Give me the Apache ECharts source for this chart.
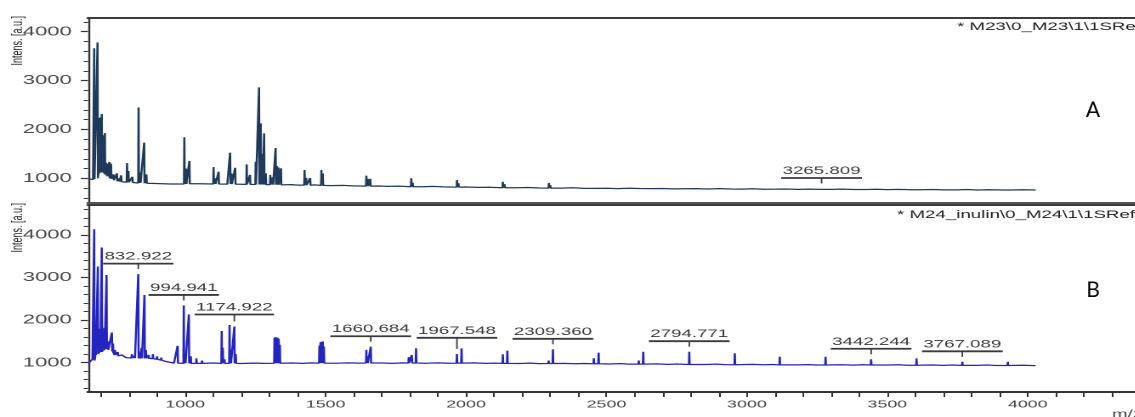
<!DOCTYPE html>
<html>
<head>
<meta charset="utf-8">
<script src="https://cdn.jsdelivr.net/npm/echarts@6/dist/echarts.min.js"></script>
<style>
html, body { margin: 0; padding: 0; background: #fff; overflow: hidden; }
#chart { position: absolute; left: 0; top: 0; height: 417px; transform-origin: 0 0; }
</style>
</head>
<body>
<div id="chart"></div>
<script>
// ---- spectrum data (m/z, intensity in a.u.) ----
const mzRange = [654, 4384];

// Spectrum A: M23 reference
const baselineA = [
  [655, 990], [665, 1000], [672, 975], [682, 990], [700, 1120], [712, 1080], [725, 1000],
  [745, 960], [760, 935], [800, 915], [860, 898], [950, 884], [1050, 890], [1150, 882],
  [1250, 875], [1350, 866], [1380, 872], [1400, 860], [1460, 866], [1520, 850], [1560, 856],
  [1600, 846], [1690, 842], [1720, 834], [1760, 840], [1850, 828], [1880, 834], [1920, 824],
  [2000, 822], [2040, 814], [2080, 818], [2180, 806], [2220, 812], [2260, 802], [2340, 800],
  [2380, 806], [2420, 794], [2500, 796], [2540, 790], [2580, 798], [2660, 788], [2700, 792],
  [2740, 784], [2820, 790], [2860, 782], [2900, 788], [2980, 780], [3020, 786], [3060, 776],
  [3140, 782], [3180, 775], [3220, 780], [3300, 774], [3340, 779], [3380, 770], [3460, 776],
  [3500, 768], [3540, 773], [3620, 766], [3660, 771], [3700, 764], [3780, 770], [3820, 762],
  [3860, 767], [3940, 762], [3980, 766], [4028, 760]
];
// [m/z, peak top, peak foot]
const peaksA = [
  [676, 3660, 985], [688, 3780, 1000], [692, 2235, 1100], [695, 1880, 1120], [699, 2250, 1140],
  [703, 2315, 1140], [706, 1880, 1120], [710, 1350, 1100], [714, 1925, 1080], [718, 1320, 1060],
  [722, 1300, 1040], [730, 1335, 1000], [736, 1300, 990], [745, 1080, 960], [757, 1100, 940],
  [765, 1000, 935], [772, 1060, 930], [793, 1310, 920], [798, 1150, 920], [812, 1030, 915],
  [834, 2450, 905], [840, 1120, 905], [854, 1730, 900], [862, 1080, 900], [997, 1840, 885],
  [1003, 1200, 886], [1015, 1355, 888], [1101, 1230, 885], [1107, 1000, 885], [1119, 1135, 884],
  [1160, 1525, 882], [1165, 1100, 882], [1178, 1215, 880], [1219, 1285, 876], [1231, 1070, 876],
  [1251, 1340, 874], [1263, 2860, 873], [1266, 2080, 873], [1269, 2125, 873], [1275, 1500, 873],
  [1281, 1920, 872], [1287, 1100, 872], [1303, 1070, 870], [1312, 1020, 870], [1322, 1620, 868],
  [1327, 1250, 868], [1332, 1220, 868], [1341, 1205, 866], [1425, 1170, 860], [1431, 1010, 860],
  [1445, 1005, 858], [1485, 1170, 855], [1490, 1100, 855], [1645, 1055, 840], [1650, 990, 840],
  [1659, 990, 840], [1805, 1000, 828], [1810, 910, 828], [1968, 965, 820], [1973, 900, 820],
  [2131, 930, 808], [2137, 880, 808], [2295, 905, 800], [2300, 860, 800], [2457, 835, 795],
  [2620, 825, 791], [2782, 815, 787], [2945, 805, 782], [3105, 800, 778], [3265.809, 792, 774],
  [3430, 790, 770], [3590, 786, 767], [3752, 782, 764], [3915, 778, 762]
];
const labelsA = [3265.809];

// Spectrum B: M24 inulin
const baselineB = [
  [655, 990], [662, 1000], [670, 1080], [682, 1180], [700, 1250], [715, 1320], [730, 1280],
  [750, 1180], [770, 1140], [800, 1110], [830, 1100], [870, 1100], [900, 1080], [930, 1030],
  [960, 990], [1030, 995], [1070, 985], [1100, 992], [1200, 982], [1240, 990], [1280, 984],
  [1380, 992], [1420, 985], [1450, 995], [1540, 988], [1580, 996], [1620, 990], [1700, 993],
  [1740, 985], [1770, 995], [1860, 988], [1900, 996], [1940, 986], [2030, 994], [2070, 984],
  [2100, 990], [2190, 982], [2230, 990], [2260, 978], [2350, 985], [2390, 975], [2420, 982],
  [2510, 970], [2550, 978], [2580, 966], [2680, 972], [2720, 960], [2750, 968], [2850, 958],
  [2890, 965], [2920, 955], [3020, 960], [3060, 950], [3090, 956], [3180, 948], [3220, 955],
  [3250, 945], [3340, 952], [3380, 942], [3410, 950], [3500, 944], [3540, 950], [3570, 940],
  [3660, 946], [3700, 936], [3730, 944], [3820, 938], [3860, 944], [3890, 934], [3980, 940],
  [4028, 932]
];
const peaksB = [
  [676, 4135, 1050], [681, 1500, 1150], [689, 3260, 1200], [693, 1650, 1230], [697, 1800, 1250],
  [703, 3705, 1250], [707, 1700, 1280], [712, 1820, 1300], [720, 3060, 1320], [725, 1500, 1300],
  [739, 1710, 1260], [743, 1450, 1240], [750, 1300, 1180], [760, 1250, 1160], [775, 1180, 1140],
  [790, 1150, 1120], [810, 1200, 1110], [820, 1160, 1105], [832.922, 3080, 1100], [838, 1250, 1100],
  [845, 1350, 1100], [855, 2590, 1100], [860, 1300, 1100], [870, 1180, 1100], [885, 1200, 1095],
  [900, 1150, 1080], [915, 1120, 1060], [973, 1395, 990], [994.941, 2345, 985], [1000, 1200, 985],
  [1013, 2135, 985], [1020, 1150, 985], [1040, 1100, 985], [1060, 1050, 985], [1130, 1745, 985],
  [1134, 1350, 985], [1140, 1080, 985], [1158, 1885, 985], [1162, 1300, 985], [1174.922, 1850, 985],
  [1180, 1200, 985], [1318, 1580, 988], [1321, 1600, 988], [1325, 1590, 988], [1329, 1590, 988],
  [1333, 1560, 988], [1337, 1420, 988], [1478, 1400, 990], [1482, 1480, 990], [1486, 1490, 990],
  [1490, 1500, 990], [1494, 1380, 990], [1645, 1300, 992], [1649, 1150, 992], [1660.684, 1375, 992],
  [1796, 1130, 993], [1807, 1180, 993], [1822, 1340, 993], [1967.548, 1205, 990], [1984, 1337, 990],
  [2131, 1197, 985], [2147, 1282, 985], [2294, 1050, 980], [2309.36, 1314, 980], [2455, 1103, 975],
  [2472, 1235, 975], [2615, 1050, 965], [2631, 1258, 965], [2794.771, 1258, 958], [2957, 1220, 952],
  [3117, 1140, 948], [3280, 1140, 945], [3442.244, 1080, 944], [3604, 1100, 940], [3767.089, 1020, 936],
  [3929, 1020, 934]
];
const labelsB = [832.922, 994.941, 1174.922, 1660.684, 1967.548, 2309.36, 2794.771, 3442.244, 3767.089];

// ---- axis ticks and labels ----
const yRangeA = [495, 4280];
const yRangeB = [311, 4705];
const yLabelValues = [1000, 2000, 3000, 4000];
const yMinorA = [600, 800, 1200, 1400, 1600, 1800, 2200, 2400, 2600, 2800, 3200, 3400, 3600, 3800, 4200];
const yMinorB = [400, 600, 800, 1200, 1400, 1600, 1800, 2200, 2400, 2600, 2800, 3200, 3400, 3600, 3800, 4200, 4400, 4600];
const xLabelValues = [1000, 1500, 2000, 2500, 3000, 3500, 4000];
const xTickValues = [700, 800, 900, 1000, 1100, 1200, 1300, 1400, 1500, 1600, 1700, 1800, 1900, 2000,
  2100, 2200, 2300, 2400, 2500, 2600, 2700, 2800, 2900, 3000, 3100, 3200, 3300, 3400, 3500, 3600,
  3700, 3800, 3900, 4000, 4100, 4200, 4300];

const headerA = '* M23\\0_M23\\1\\1SRef';
const headerB = '* M24_inulin\\0_M24\\1\\1SRef';

// ---- layout: the acquisition-software look uses wide glyphs, so the drawing is stretched horizontally ----
const S = 1.7;
const W = 1135 / S;
const px = v => v / S;
const el = document.getElementById('chart');
el.style.width = W + 'px';
el.style.transform = 'scaleX(' + S + ')';

const FONT = '"Liberation Sans", Arial, sans-serif';
const measureCtx = document.createElement('canvas').getContext('2d');
measureCtx.font = '11px ' + FONT;
const plain = v => String(v);

function buildTrace(baseline, peaks) {
  const pts = baseline.map(p => [p[0], p[1]]);
  peaks.forEach(([mz, top, foot]) => {
    pts.push([mz - 1.2, foot], [mz, top], [mz + 1.2, foot]);
  });
  pts.sort((a, b) => a[0] - b[0]);
  return pts;
}

function annotationData(labels, peaks) {
  return labels.map(mz => {
    const own = peaks.find(p => Math.abs(p[0] - mz) < 0.01);
    let level = own[1];
    peaks.forEach(p => { if (Math.abs(p[0] - mz) <= 20 && p[1] > level) level = p[1]; });
    return [mz, level, own[1]];
  });
}

function annotationSeries(idx, labels, peaks) {
  return {
    type: 'custom',
    xAxisIndex: idx * 2,
    yAxisIndex: idx * 2,
    silent: true,
    z: 5,
    data: annotationData(labels, peaks),
    renderItem: (params, api) => {
      const mz = api.value(0);
      const lvl = api.coord([mz, api.value(1)]);
      const top = api.coord([mz, api.value(2)]);
      const text = mz.toFixed(3);
      const w = measureCtx.measureText(text).width;
      const lineY = lvl[1] - 10.5;
      const tickEnd = Math.max(lineY + 4, top[1] - 5);
      return {
        type: 'group',
        children: [
          { type: 'text', style: { text: text, x: top[0], y: lineY - 1.5, align: 'center', verticalAlign: 'bottom',
              font: '11px ' + FONT, fill: '#3a3a3a' } },
          { type: 'line', shape: { x1: top[0] - w / 2 - 0.8, y1: lineY, x2: top[0] + w / 2 + 0.8, y2: lineY },
            style: { stroke: '#3a3a3a', lineWidth: 1.8 } },
          { type: 'line', shape: { x1: top[0], y1: lineY, x2: top[0], y2: tickEnd },
            style: { stroke: '#3a3a3a', lineWidth: 0.9 } }
        ]
      };
    }
  };
}

function xAxes(gridIndex, withLabels) {
  const common = { type: 'value', gridIndex: gridIndex, min: mzRange[0], max: mzRange[1], splitLine: { show: false } };
  return [
    Object.assign({}, common, {
      position: 'bottom',
      axisLine: { show: true, onZero: false, lineStyle: { color: withLabels ? '#333' : '#555', width: 2 } },
      axisTick: withLabels ? { show: true, customValues: xTickValues, length: 5, lineStyle: { color: '#333', width: 1 } } : { show: false },
      axisLabel: withLabels ? { show: true, customValues: xLabelValues, formatter: plain, fontSize: 10.5, fontFamily: FONT, color: '#444', margin: 7 } : { show: false }
    }),
    Object.assign({}, common, {
      position: 'top',
      axisLine: { show: true, onZero: false, lineStyle: { color: '#3c3c3c', width: 2 } },
      axisTick: { show: false },
      axisLabel: { show: false }
    })
  ];
}

function yAxes(gridIndex, range, minor) {
  const common = { type: 'value', gridIndex: gridIndex, min: range[0], max: range[1], position: 'left', splitLine: { show: false } };
  return [
    Object.assign({}, common, {
      axisLine: { show: true, onZero: false, lineStyle: { color: '#333', width: 1.2 } },
      axisTick: { show: true, customValues: yLabelValues, length: 4.2, lineStyle: { color: '#333', width: 1.2 } },
      axisLabel: { show: true, customValues: yLabelValues, formatter: plain, fontSize: 13, fontFamily: FONT, color: '#4a4a4a', margin: 9.5 }
    }),
    Object.assign({}, common, {
      axisLine: { show: false },
      axisTick: { show: true, customValues: minor, length: 2.5, lineStyle: { color: '#333', width: 1 } },
      axisLabel: { show: false }
    })
  ];
}

const chart = echarts.init(el, null, { renderer: 'canvas', devicePixelRatio: 2 });

chart.setOption({
  animation: false,
  backgroundColor: '#fff',
  grid: [
    { left: px(88), right: 0, top: 18, height: 185 },
    { left: px(88), right: 0, top: 205, height: 187 }
  ],
  xAxis: xAxes(0, false).concat(xAxes(1, true)),
  yAxis: yAxes(0, yRangeA, yMinorA).concat(yAxes(1, yRangeB, yMinorB)),
  series: [
    {
      name: 'M23', type: 'line', xAxisIndex: 0, yAxisIndex: 0,
      data: buildTrace(baselineA, peaksA),
      showSymbol: false, symbol: 'none', silent: true,
      lineStyle: { color: '#1f3a5a', width: 1.25 }
    },
    {
      name: 'M24_inulin', type: 'line', xAxisIndex: 2, yAxisIndex: 2,
      data: buildTrace(baselineB, peaksB),
      showSymbol: false, symbol: 'none', silent: true,
      lineStyle: { color: '#2424c0', width: 1.25 }
    },
    annotationSeries(0, labelsA, peaksA),
    annotationSeries(1, labelsB, peaksB)
  ],
  graphic: [
    { type: 'text', x: px(957), y: 27, style: { text: headerA, font: '11px ' + FONT, fill: '#222', verticalAlign: 'middle' } },
    { type: 'text', x: px(897), y: 215, style: { text: headerB, font: '11px ' + FONT, fill: '#222', verticalAlign: 'middle' } },
    { type: 'text', x: px(17.5), y: 16, rotation: Math.PI / 2,
      style: { text: 'Intens. [a.u.]', font: '9px ' + FONT, fill: '#222', align: 'right', verticalAlign: 'middle' } },
    { type: 'text', x: px(17.5), y: 203, rotation: Math.PI / 2,
      style: { text: 'Intens. [a.u.]', font: '9px ' + FONT, fill: '#222', align: 'right', verticalAlign: 'middle' } },
    { type: 'text', x: px(1112), y: 409, style: { text: 'm/z', font: '11px ' + FONT, fill: '#444', verticalAlign: 'top' } },
    { type: 'text', x: px(1093), y: 110, scaleX: 1 / S,
      style: { text: 'A', font: '21px Lato, "Open Sans", sans-serif', fill: '#000', align: 'center', verticalAlign: 'middle' } },
    { type: 'text', x: px(1093), y: 290, scaleX: 1 / S,
      style: { text: 'B', font: '21px Lato, "Open Sans", sans-serif', fill: '#000', align: 'center', verticalAlign: 'middle' } }
  ]
});
</script>
</body>
</html>
